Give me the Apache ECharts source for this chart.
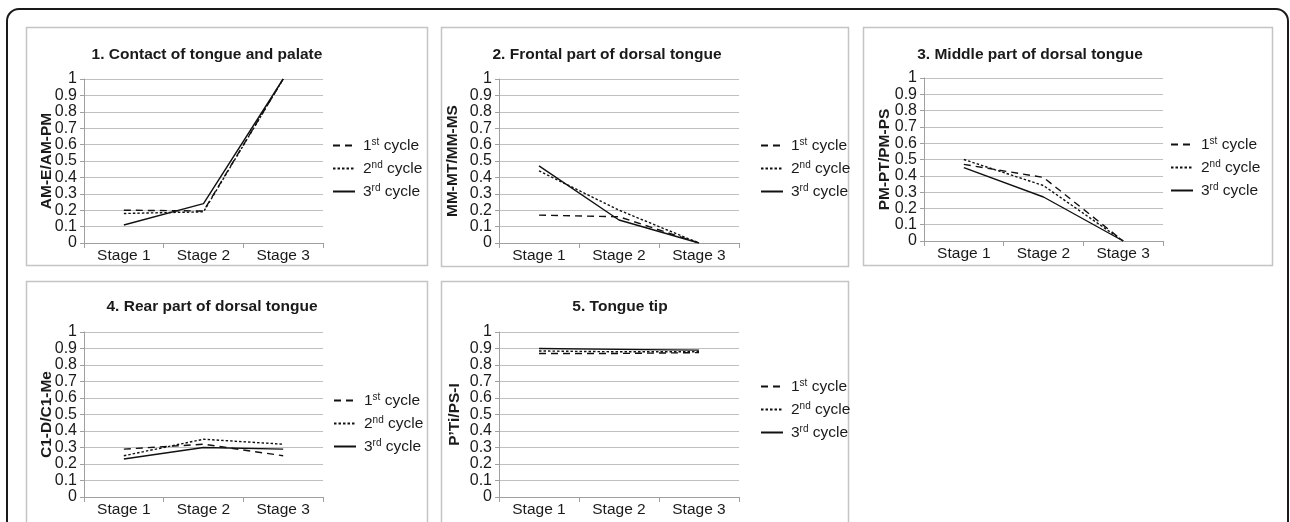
<!DOCTYPE html>
<html>
<head>
<meta charset="utf-8">
<script src="https://cdn.jsdelivr.net/npm/echarts@6/dist/echarts.min.js"></script>
<style>
html,body{margin:0;padding:0;background:#fff;}
#chart{width:1290px;height:522px;}
</style>
</head>
<body>
<div id="chart"></div>
<script>
// ---- data ----
const categories = ['Stage 1', 'Stage 2', 'Stage 3'];
const seriesNames = ['1st cycle', '2nd cycle', '3rd cycle'];
const yTicks = ['0','0.1','0.2','0.3','0.4','0.5','0.6','0.7','0.8','0.9','1'];

const panelTitles = [
  '1. Contact of tongue and palate',
  '2. Frontal part of dorsal tongue',
  '3. Middle part of dorsal tongue',
  '4. Rear part of dorsal tongue',
  '5. Tongue tip'
];
const yAxisNames = ['AM-E/AM-PM', 'MM-MT/MM-MS', 'PM-PT/PM-PS', 'C1-D/C1-Me', 'P\u2019Ti/PS-I'];

const p1_cycle1 = [0.20, 0.195, 1.0];
const p1_cycle2 = [0.18, 0.19, 1.0];
const p1_cycle3 = [0.11, 0.24, 1.0];

const p2_cycle1 = [0.17, 0.16, 0.0];
const p2_cycle2 = [0.44, 0.20, 0.0];
const p2_cycle3 = [0.47, 0.14, 0.0];

const p3_cycle1 = [0.47, 0.39, 0.0];
const p3_cycle2 = [0.50, 0.34, 0.0];
const p3_cycle3 = [0.45, 0.27, 0.0];

const p4_cycle1 = [0.29, 0.32, 0.25];
const p4_cycle2 = [0.25, 0.35, 0.32];
const p4_cycle3 = [0.23, 0.30, 0.29];

const p5_cycle1 = [0.87, 0.87, 0.875];
const p5_cycle2 = [0.885, 0.88, 0.88];
const p5_cycle3 = [0.90, 0.895, 0.89];

const panelData = [
  [p1_cycle1, p1_cycle2, p1_cycle3],
  [p2_cycle1, p2_cycle2, p2_cycle3],
  [p3_cycle1, p3_cycle2, p3_cycle3],
  [p4_cycle1, p4_cycle2, p4_cycle3],
  [p5_cycle1, p5_cycle2, p5_cycle3]
];

// ---- layout ----
const FONT = '"Liberation Sans", Arial, sans-serif';
const grids = [
  {left: 84,  top: 79,  width: 239, height: 164},
  {left: 499, top: 79,  width: 240, height: 164},
  {left: 924, top: 78,  width: 239, height: 163},
  {left: 84,  top: 332, width: 239, height: 165},
  {left: 499, top: 332, width: 240, height: 165}
];
const boxes = [
  {x: 26,  y: 27,  w: 401, h: 238},
  {x: 441, y: 27,  w: 407, h: 239},
  {x: 863, y: 27,  w: 409, h: 238},
  {x: 26,  y: 281, w: 401, h: 300},
  {x: 441, y: 281, w: 407, h: 300}
];
const titlePos = [[207, 47], [607, 47], [1030, 47], [212, 299], [620, 299]];
const nameGaps = [29, 38, 31, 29, 36];
const legendPos = [[332, 137], [760, 137], [1170, 136], [333, 392], [760, 378]];
const dashTypes = [[7, 5], [2.5, 2], 'solid'];

const option = {
  animation: false,
  backgroundColor: '#fff',
  title: [],
  grid: [],
  xAxis: [],
  yAxis: [],
  legend: [],
  series: [],
  graphic: []
};

// outer frame
option.graphic.push({
  type: 'rect', silent: true, z: 0,
  shape: {x: 7, y: 9, width: 1281, height: 600, r: 12},
  style: {fill: 'none', stroke: '#1a1a1a', lineWidth: 2}
});
boxes.forEach(b => {
  option.graphic.push({
    type: 'rect', silent: true, z: 0,
    shape: {x: b.x + 0.5, y: b.y + 0.5, width: b.w, height: b.h},
    style: {fill: 'none', stroke: '#c4c4c4', lineWidth: 1.5}
  });
});

const supMap = {'1st cycle': '1{s|st} cycle', '2nd cycle': '2{s|nd} cycle', '3rd cycle': '3{s|rd} cycle'};

for (let i = 0; i < 5; i++) {
  option.title.push({
    text: panelTitles[i], left: titlePos[i][0], top: titlePos[i][1],
    textAlign: 'center', padding: 0,
    textStyle: {fontFamily: FONT, fontSize: 15.5, fontWeight: 'bold', color: '#1a1a1a'}
  });
  option.grid.push(Object.assign({containLabel: false}, grids[i]));
  option.xAxis.push({
    type: 'category', gridIndex: i, data: categories, boundaryGap: true,
    axisLine: {lineStyle: {color: '#a0a0a0', width: 1}},
    axisTick: {show: true, length: 5, lineStyle: {color: '#a0a0a0'}},
    axisLabel: {fontFamily: FONT, fontSize: 15.5, color: '#1a1a1a', margin: 5},
    splitLine: {show: false}
  });
  option.yAxis.push({
    type: 'value', gridIndex: i, min: 0, max: 1, interval: 0.1,
    name: yAxisNames[i], nameLocation: 'middle', nameRotate: 90, nameGap: nameGaps[i],
    nameMoveOverlap: false,
    nameTextStyle: {fontFamily: FONT, fontSize: 15.5, fontWeight: 'bold', color: '#1a1a1a'},
    axisLine: {show: true, lineStyle: {color: '#a0a0a0', width: 1}},
    axisTick: {show: true, length: 4, lineStyle: {color: '#a0a0a0'}},
    axisLabel: {fontFamily: FONT, fontSize: 16, lineHeight: 16, color: '#1a1a1a', margin: 7,
      formatter: (v) => yTicks[Math.round(v * 10)]},
    splitLine: {show: true, lineStyle: {color: '#c0c0c0', width: 1}}
  });
  option.legend.push({
    orient: 'vertical', left: legendPos[i][0], top: legendPos[i][1],
    padding: 0, itemWidth: 22, itemHeight: 14, itemGap: 6,
    data: seriesNames,
    itemStyle: {opacity: 0},
    formatter: (name) => supMap[name],
    textStyle: {fontFamily: FONT, fontSize: 15.5, color: '#1a1a1a', padding: [0, 0, 0, 3], lineHeight: 17,
      rich: {s: {fontFamily: FONT, fontSize: 10, color: '#1a1a1a', verticalAlign: 'top', lineHeight: 17}}}
  });
  for (let k = 0; k < 3; k++) {
    option.series.push({
      type: 'line', name: seriesNames[k], xAxisIndex: i, yAxisIndex: i,
      data: panelData[i][k], symbol: 'none', showSymbol: false,
      lineStyle: {color: '#111', width: 1.4, type: dashTypes[k]},
      itemStyle: {color: '#111'}
    });
  }
}

const chart = echarts.init(document.getElementById('chart'), null, {renderer: 'canvas'});
chart.setOption(option);
</script>
</body>
</html>
